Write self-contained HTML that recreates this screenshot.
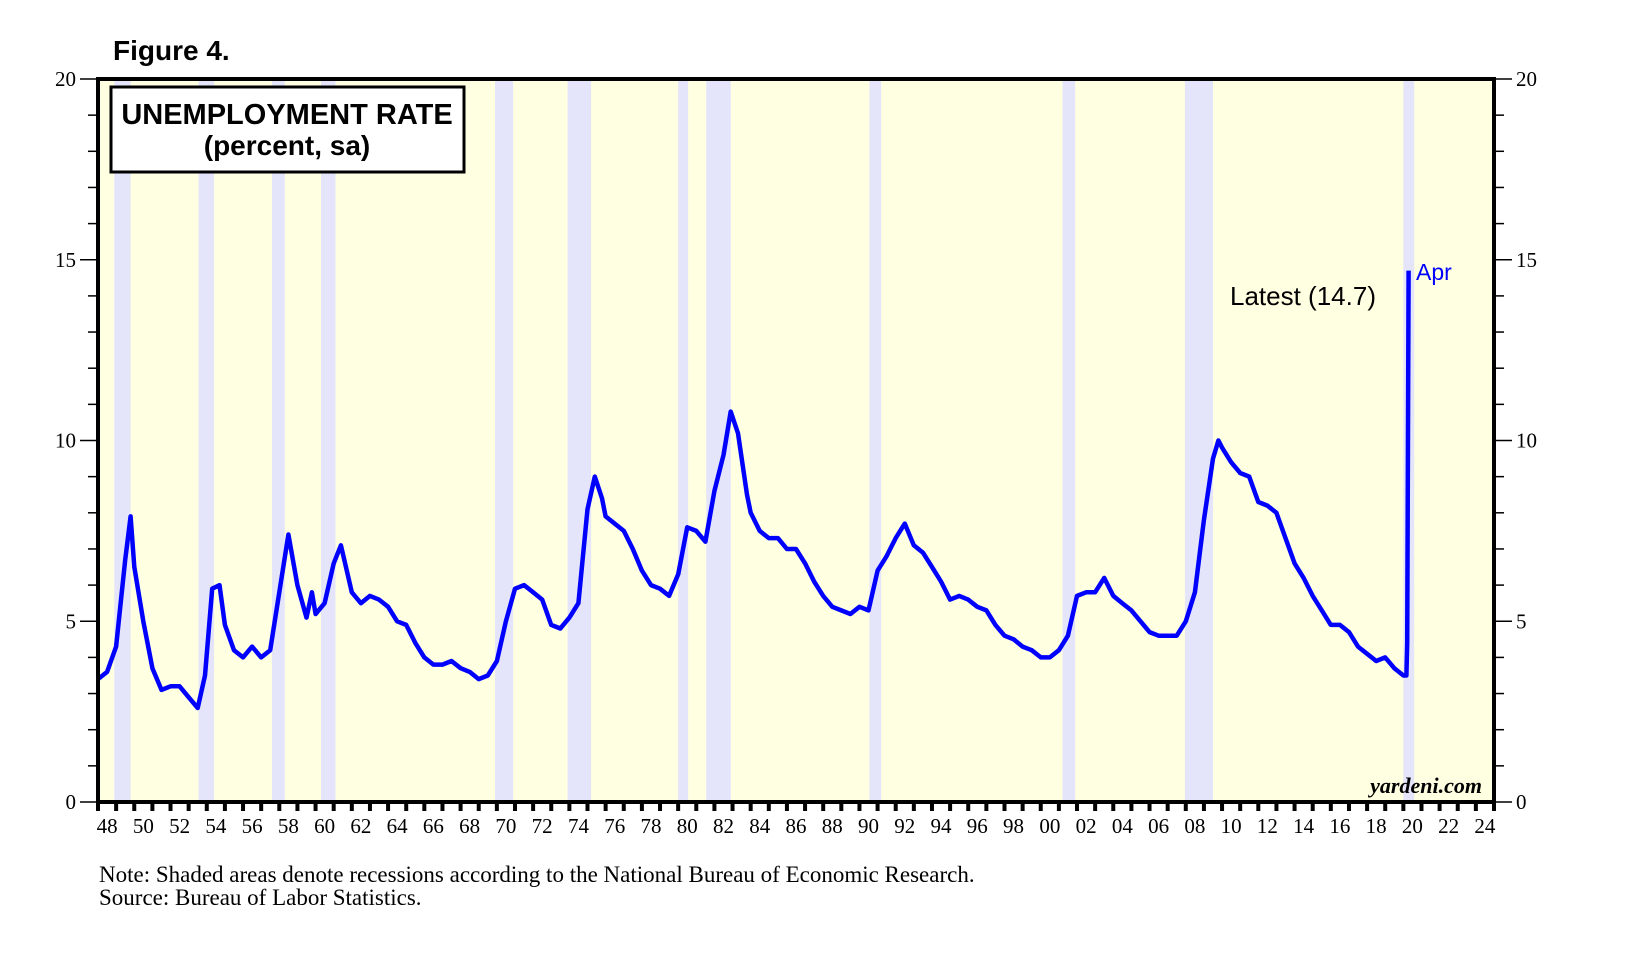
<!DOCTYPE html>
<html><head><meta charset="utf-8"><style>
body{margin:0;background:#fff;}
svg{display:block;font-family:"Liberation Serif",serif;}
</style></head><body>
<svg id="chart" width="1628" height="979">
<text x="113" y="60" font-family="Liberation Sans" font-weight="bold" font-size="28">Figure 4.</text>
<rect x="98" y="79" width="1396" height="723" fill="#ffffe2"/>
<g id="bands"></g>
<g id="ticks"></g>
<path id="line" fill="none" stroke="#0000ff" stroke-width="4.5" stroke-linejoin="round"/>
<rect x="98" y="79" width="1396" height="723" fill="none" stroke="#000" stroke-width="4"/>
<rect x="111" y="87" width="353" height="85" fill="#fff" stroke="#000" stroke-width="3"/>
<text x="287" y="124" text-anchor="middle" font-family="Liberation Sans" font-weight="bold" font-size="29">UNEMPLOYMENT RATE</text>
<text x="287" y="155" text-anchor="middle" font-family="Liberation Sans" font-weight="bold" font-size="28">(percent, sa)</text>
<text x="1230" y="305" font-family="Liberation Sans" font-size="26">Latest (14.7)</text>
<text x="1416" y="280" font-family="Liberation Sans" font-size="23" fill="#0000ff">Apr</text>
<text x="1482" y="793" text-anchor="end" font-weight="bold" font-style="italic" font-size="22">yardeni.com</text>
<text x="99" y="882" font-size="23">Note: Shaded areas denote recessions according to the National Bureau of Economic Research.</text>
<text x="99" y="905" font-size="23">Source: Bureau of Labor Statistics.</text>
</svg>
<script>
const dates=[1948.0,1948.5,1949.0,1949.5,1949.8,1950.0,1950.5,1951.0,1951.5,1952.0,1952.5,1953.0,1953.5,1953.9,1954.3,1954.7,1955.0,1955.5,1956.0,1956.5,1957.0,1957.5,1958.0,1958.5,1959.0,1959.5,1959.8,1960.0,1960.5,1961.0,1961.4,1962.0,1962.5,1963.0,1963.5,1964.0,1964.5,1965.0,1965.5,1966.0,1966.5,1967.0,1967.5,1968.0,1968.5,1969.0,1969.5,1970.0,1970.5,1971.0,1971.5,1972.0,1972.5,1973.0,1973.5,1974.0,1974.5,1975.0,1975.4,1975.8,1976.0,1976.5,1977.0,1977.5,1978.0,1978.5,1979.0,1979.5,1980.0,1980.5,1981.0,1981.5,1982.0,1982.5,1982.9,1983.3,1983.8,1984.0,1984.5,1985.0,1985.5,1986.0,1986.5,1987.0,1987.5,1988.0,1988.5,1989.0,1989.5,1990.0,1990.5,1991.0,1991.5,1992.0,1992.5,1993.0,1993.5,1994.0,1994.5,1995.0,1995.5,1996.0,1996.5,1997.0,1997.5,1998.0,1998.5,1999.0,1999.5,2000.0,2000.5,2001.0,2001.5,2002.0,2002.5,2003.0,2003.5,2004.0,2004.5,2005.0,2005.5,2006.0,2006.5,2007.0,2007.5,2008.0,2008.5,2009.0,2009.5,2009.8,2010.0,2010.5,2011.0,2011.5,2012.0,2012.5,2013.0,2013.5,2014.0,2014.5,2015.0,2015.5,2016.0,2016.5,2017.0,2017.5,2018.0,2018.5,2019.0,2019.5,2020.0,2020.17,2020.21,2020.29];
const rates=[3.4,3.6,4.3,6.7,7.9,6.5,5.0,3.7,3.1,3.2,3.2,2.9,2.6,3.5,5.9,6.0,4.9,4.2,4.0,4.3,4.0,4.2,5.8,7.4,6.0,5.1,5.8,5.2,5.5,6.6,7.1,5.8,5.5,5.7,5.6,5.4,5.0,4.9,4.4,4.0,3.8,3.8,3.9,3.7,3.6,3.4,3.5,3.9,5.0,5.9,6.0,5.8,5.6,4.9,4.8,5.1,5.5,8.1,9.0,8.4,7.9,7.7,7.5,7.0,6.4,6.0,5.9,5.7,6.3,7.6,7.5,7.2,8.6,9.6,10.8,10.2,8.5,8.0,7.5,7.3,7.3,7.0,7.0,6.6,6.1,5.7,5.4,5.3,5.2,5.4,5.3,6.4,6.8,7.3,7.7,7.1,6.9,6.5,6.1,5.6,5.7,5.6,5.4,5.3,4.9,4.6,4.5,4.3,4.2,4.0,4.0,4.2,4.6,5.7,5.8,5.8,6.2,5.7,5.5,5.3,5.0,4.7,4.6,4.6,4.6,5.0,5.8,7.8,9.5,10.0,9.8,9.4,9.1,9.0,8.3,8.2,8.0,7.3,6.6,6.2,5.7,5.3,4.9,4.9,4.7,4.3,4.1,3.9,4.0,3.7,3.5,3.5,4.4,14.7];
const recStart=[1948.9,1953.55,1957.6,1960.3,1969.9,1973.9,1980.0,1981.55,1990.55,2001.2,2007.95,2020.0];
const recEnd=[1949.8,1954.4,1958.3,1961.1,1970.9,1975.2,1980.55,1982.9,1991.2,2001.9,2009.5,2020.6];
const yTicks=[0,5,10,15,20];
const xLabels=["48","50","52","54","56","58","60","62","64","66","68","70","72","74","76","78","80","82","84","86","88","90","92","94","96","98","00","02","04","06","08","10","12","14","16","18","20","22","24"];

const L=98,R=1494,T=79,B=802,Y0=1948,Y1=2025;
const xs=y=>L+(y-Y0)*(R-L)/(Y1-Y0);
const ys=v=>B-v*(B-T)/20;
const NS="http://www.w3.org/2000/svg";
function mk(tag,attrs,parent){const e=document.createElementNS(NS,tag);for(const k in attrs)e.setAttribute(k,attrs[k]);parent.appendChild(e);return e;}
const bands=document.getElementById('bands');
recStart.forEach((s,i)=>{
  const r=mk('rect',{x:xs(s),y:T,width:xs(recEnd[i])-xs(s),height:B-T,fill:'#e4e4fa'},bands);
  
  
});
const tk=document.getElementById('ticks');
for(let v=0;v<=20;v++){
  const len=v%5===0?18:10;
  const a=mk('line',{x1:L-len,x2:L,y1:ys(v),y2:ys(v),stroke:'#000','stroke-width':1.5},tk);
  
  
  const b=mk('line',{x1:R,x2:R+len,y1:ys(v),y2:ys(v),stroke:'#000','stroke-width':1.5},tk);
  
  
}
yTicks.forEach(v=>{
  const a=mk('text',{x:L-22,y:ys(v)+7,'text-anchor':'end','font-size':21},tk);a.textContent=v;
  
  
  const b=mk('text',{x:R+22,y:ys(v)+7,'font-size':21},tk);b.textContent=v;
  
  
});
for(let y=Y0;y<=Y1;y++){
  const t=mk('line',{x1:xs(y),x2:xs(y),y1:B,y2:B+9,stroke:'#000','stroke-width':4},tk);
  
  
}
xLabels.forEach((lab,i)=>{
  const t=mk('text',{x:xs(Y0+2*i+0.5),y:B+31,'text-anchor':'middle','font-size':21},tk);t.textContent=lab;
  
  
});
document.getElementById('line').setAttribute('d',dates.map((d,i)=>(i?'L':'M')+xs(d).toFixed(1)+','+ys(rates[i]).toFixed(1)).join(''));
</script>
</body></html>
